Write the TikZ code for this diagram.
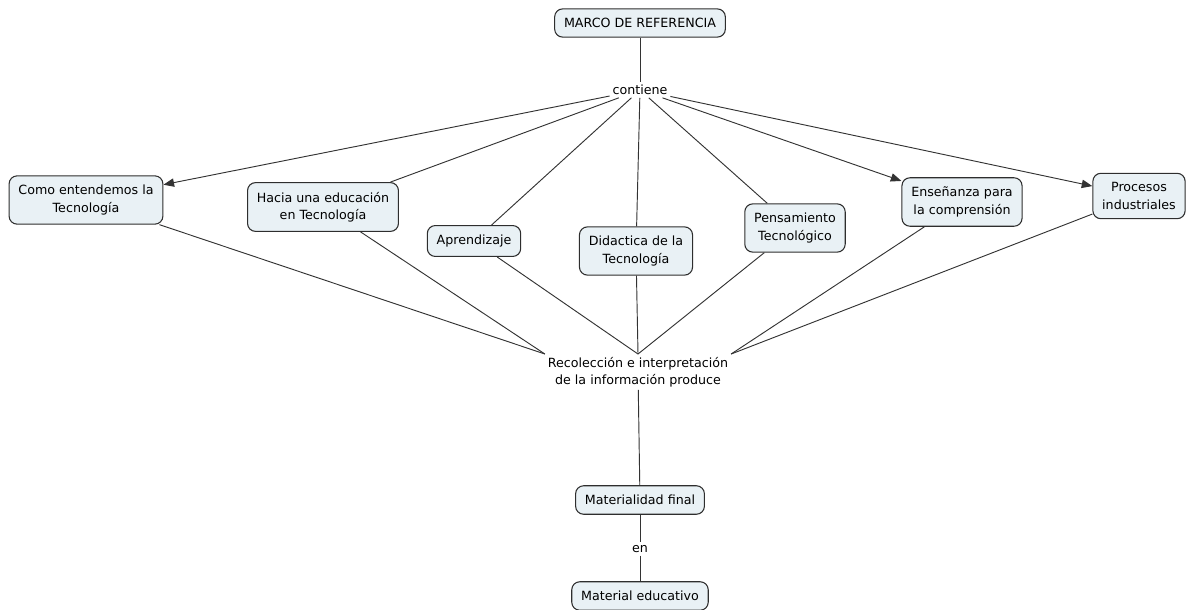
\documentclass[tikz,border=0pt]{standalone}
\usepackage{fontspec}
\setmainfont{DejaVu Sans}
\usetikzlibrary{arrows.meta,positioning}
\definecolor{Ink}{HTML}{2E2E2E}
\definecolor{Box}{HTML}{E9F1F5}
\definecolor{Wire}{HTML}{333333}
\tikzset{
  concept/.style={
    rounded corners=6pt, draw=Ink, line width=0.8pt, fill=Box,
    inner xsep=7pt, inner ysep=7pt, align=center,
    font=\fontsize{9.5}{13}\selectfont
  },
  linkword/.style={
    fill=white, inner sep=2pt, align=center,
    font=\fontsize{9.5}{13}\selectfont
  },
  link/.style={draw=Wire, line width=0.7pt},
  arrowlink/.style={-{Triangle[length=2.8mm,width=2.2mm]}, draw=Wire, line width=0.7pt}
}
\begin{document}
\begin{tikzpicture}[x=0.75pt,y=-0.75pt]
    \useasboundingbox (0,0) rectangle (1188,610);
    \node[concept] (marco) at (640,23) {MARCO DE REFERENCIA};
    \node[linkword] (contiene) at (640,90) {contiene};
    \node[concept] (como) at (86,200) {Como entendemos la\\Tecnología};
    \node[concept] (hacia) at (323,207) {Hacia una educación\\en Tecnología};
    \node[concept] (apr) at (474,241) {Aprendizaje};
    \node[concept] (did) at (636,251) {Didactica de la\\Tecnología};
    \node[concept] (pens) at (795,228) {Pensamiento\\Tecnológico};
    \node[concept] (ens) at (962,202) {Enseñanza para\\la comprensión};
    \node[concept] (proc) at (1139,196) {Procesos\\industriales};
    \node[linkword] (reco) at (638,372) {Recolección e interpretación\\de la información produce};
    \node[concept] (mat) at (640,500) {Materialidad final};
    \node[linkword] (en) at (640,549) {en};
    \node[concept] (edu) at (640,596) {Material educativo};
    % marco -> contiene
    \draw[link] (marco)--(contiene);
    \draw[arrowlink] (contiene)--(como);
    \draw[link] (contiene)--(hacia);
    \draw[link] (contiene)--(apr);
    \draw[link] (contiene)--(did);
    \draw[link] (contiene)--(pens);
    \draw[arrowlink] (contiene)--(ens);
    \draw[arrowlink] (contiene)--(proc);
    % conceptos -> recoleccion
    \draw[link] (como)--(reco.north west);
    \draw[link] (hacia)--(reco.north west);
    \foreach \c in {apr,did,pens}
      \draw[link] (\c)--(reco.north);
    \draw[link] (ens)--(reco.north east);
    \draw[link] (proc)--(reco.north east);
    \draw[link] (reco)--(mat);
    \draw[link] (mat)--(en);
    \draw[link] (en)--(edu);
  \end{tikzpicture}
\end{document}
